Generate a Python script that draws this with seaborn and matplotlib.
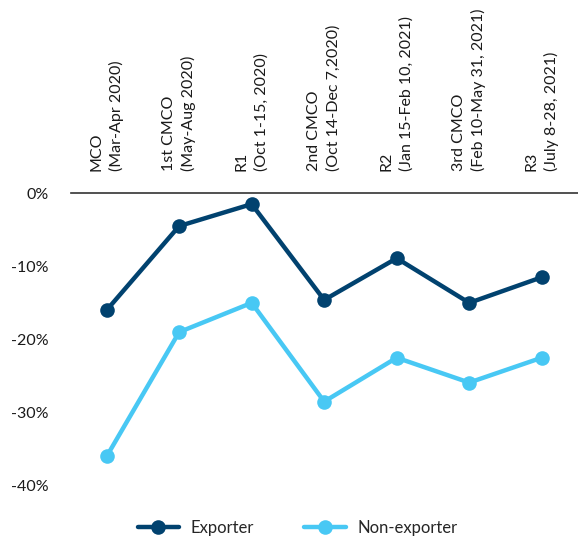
import pandas as pd
import matplotlib
matplotlib.use('Agg')
import matplotlib.pyplot as plt
import seaborn as sns

# Data
periods = [
    "MCO\n(Mar-Apr 2020)",
    "1st CMCO\n(May-Aug 2020)",
    "R1\n(Oct 1-15, 2020)",
    "2nd CMCO\n(Oct 14-Dec 7,2020)",
    "R2\n(Jan 15-Feb 10, 2021)",
    "3rd CMCO\n(Feb 10-May 31, 2021)",
    "R3\n(July 8-28, 2021)",
]
exporter = [-16.0, -4.5, -1.5, -14.6, -8.9, -15.0, -11.5]
non_exporter = [-36.0, -19.0, -15.0, -28.5, -22.5, -25.9, -22.5]
yticks = [0, -10, -20, -30, -40]

df = pd.DataFrame({
    'x': list(range(len(periods))) * 2,
    'value': exporter + non_exporter,
    'group': ['Exporter'] * len(periods) + ['Non-exporter'] * len(periods),
})

sns.set_style("white")
plt.rcParams['font.family'] = ['Lato', 'DejaVu Sans']

fig = plt.figure(figsize=(5.78, 5.38), dpi=100)
ax = fig.add_axes([0.123, 0.07, 0.877, 0.571])

palette = {'Exporter': '#01426F', 'Non-exporter': '#48C8F4'}
sns.lineplot(data=df, x='x', y='value', hue='group', palette=palette,
             marker='o', markersize=10.5, markeredgewidth=0, linewidth=3.2,
             ax=ax)

ax.set_xlim(-0.49, 6.5)
ax.set_ylim(-42, 0)
ax.set_yticks(yticks)
ax.set_yticklabels([f"{v}%" for v in yticks], fontsize=11.5, color='#1a1a1a')
ax.set_xticks(range(len(periods)))
ax.xaxis.tick_top()
ax.set_xticklabels(periods, rotation=90, ha='center', va='bottom',
                   multialignment='left', linespacing=1.45,
                   fontsize=11.5, color='#1a1a1a')
ax.tick_params(axis='x', length=0, pad=16)
ax.tick_params(axis='y', length=0, pad=16)
ax.set_xlabel('')
ax.set_ylabel('')

for side in ['left', 'right', 'bottom']:
    ax.spines[side].set_visible(False)
ax.spines['top'].set_color('#333333')
ax.spines['top'].set_linewidth(1.2)

handles, labels = ax.get_legend_handles_labels()
ax.legend_.remove()
fig.legend(handles, labels, loc='center', bbox_to_anchor=(0.515, 0.018),
           ncol=2, frameon=False, fontsize=12, handlelength=2.5,
           columnspacing=3.0, handletextpad=0.7)

plt.savefig('out.png', dpi=100)
